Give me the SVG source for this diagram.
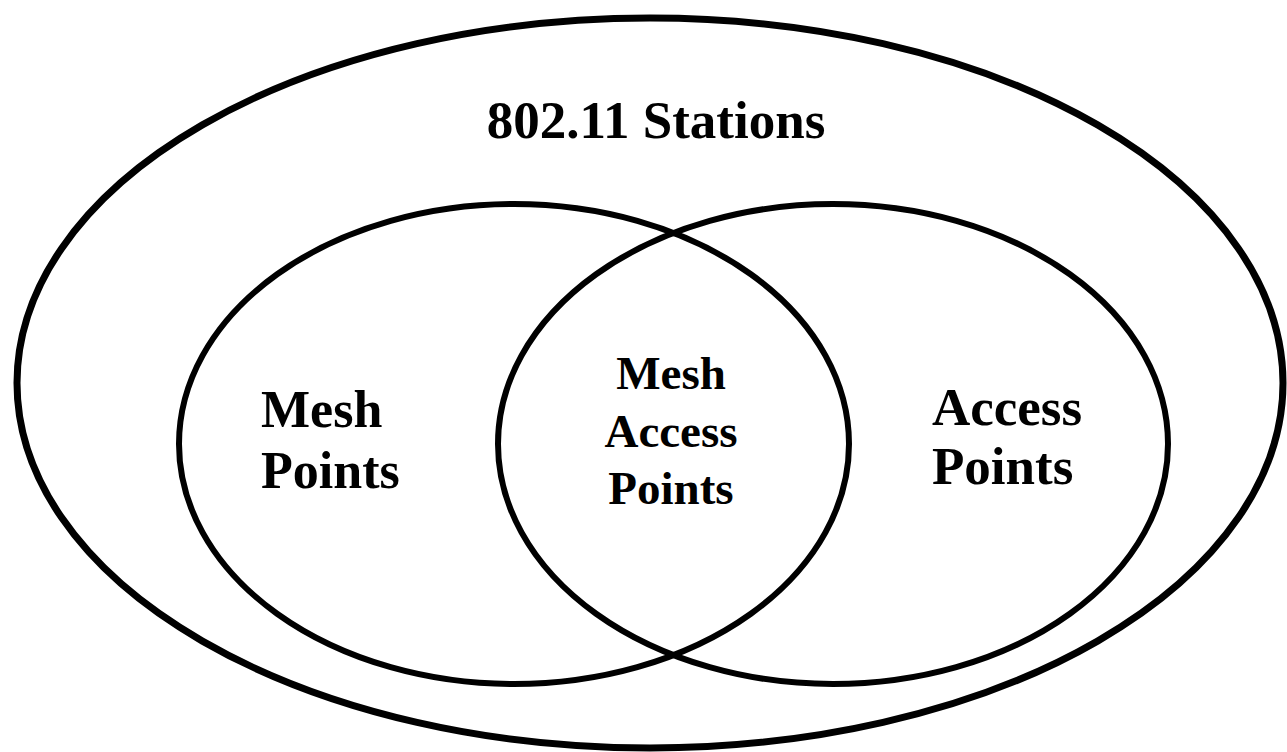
<svg xmlns="http://www.w3.org/2000/svg" width="1287" height="752" viewBox="0 0 1287 752">
<style>
.outer{fill:none;stroke:#000;stroke-width:7}
.inner{fill:none;stroke:#000;stroke-width:6}
.lbl{font-family:"Liberation Serif","Times New Roman",serif;font-weight:bold;fill:#000}
</style>
<rect width="1287" height="752" fill="#fff"/>
<g id="stations">
<ellipse class="outer" cx="650" cy="383" rx="633" ry="365"/>
<text class="lbl" x="656" y="138" font-size="53" text-anchor="middle">802.11 Stations</text>
</g>
<g id="mesh-points">
<ellipse class="inner" cx="514" cy="444" rx="335" ry="240"/>
<text class="lbl" x="261" y="427" font-size="52">Mesh</text>
<text class="lbl" x="261" y="488" font-size="52">Points</text>
</g>
<g id="access-points">
<ellipse class="inner" cx="833" cy="444" rx="335" ry="240"/>
<text class="lbl" x="932" y="425" font-size="53">Access</text>
<text class="lbl" x="932" y="484" font-size="53">Points</text>
</g>
<g id="mesh-access-points">
<text class="lbl" x="671" y="389" font-size="47" text-anchor="middle">Mesh</text>
<text class="lbl" x="671" y="447" font-size="47" text-anchor="middle">Access</text>
<text class="lbl" x="671" y="504" font-size="47" text-anchor="middle">Points</text>
</g>
<g id="connectors"/>
</svg>
